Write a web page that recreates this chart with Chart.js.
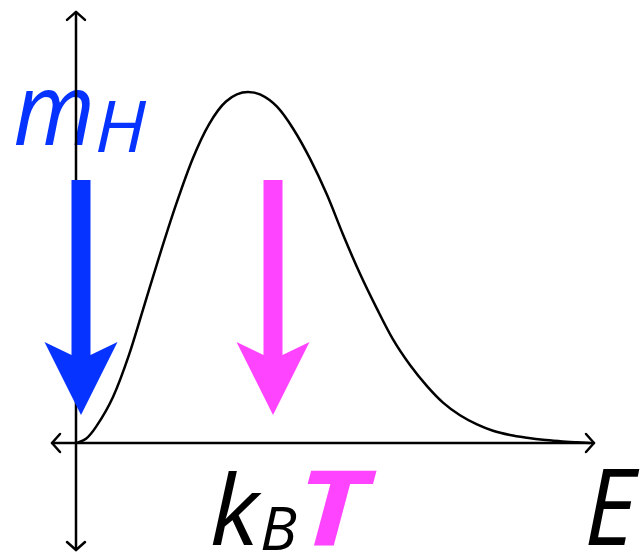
<!DOCTYPE html>
<html>
<head>
<meta charset="utf-8">
<script src="https://cdn.jsdelivr.net/npm/chart.js@4.4.1/dist/chart.umd.min.js"></script>
<style>
  html, body { margin: 0; padding: 0; background: #fff; }
  #wrap { width: 643px; height: 556px; }
</style>
</head>
<body>
<div id="wrap"><canvas id="dist" width="643" height="556"></canvas></div>
<script>
// curve: energy E vs relative population (peak = 1)
const energy  = [0, 0.10, 0.20, 0.37, 0.53, 0.67, 0.83, 1.00, 1.17, 1.33, 1.50, 1.72,
                 1.84, 2.01, 2.17, 2.34, 2.51, 2.67, 2.84, 3.01, 3.17, 3.34, 3.51, 3.67,
                 3.84, 4.01, 4.17, 4.34, 4.51, 4.67, 4.84, 5.01, 5.14];
const density = [0, 0.012, 0.046, 0.131, 0.251, 0.380, 0.529, 0.679, 0.812, 0.908, 0.973, 1.000,
                 0.993, 0.958, 0.896, 0.810, 0.707, 0.594, 0.482, 0.382, 0.295, 0.222, 0.162, 0.115,
                 0.079, 0.053, 0.035, 0.023, 0.015, 0.009, 0.005, 0.002, 0];

// the two down arrows: where they sit on E, their top and tip heights
const markerNames = ["mH", "kBT"];
const markerE     = [0.05, 1.97];
const markerTop   = [0.749, 0.749];
const markerTip   = [0.080, 0.080];
const markerColor = ["#0633FF", "#FF44FF"];

/* ---------- helpers ---------- */
// draw a string so its ink box fills [x0,x1] x [yTop,yBase]
function fitText(ctx, text, style, family, color, x0, x1, yTop, yBase) {
  ctx.save();
  ctx.font = `${style} 100px ${family}`;
  let m = ctx.measureText(text);
  const size = 100 * (yBase - yTop) / m.actualBoundingBoxAscent;
  ctx.font = `${style} ${size}px ${family}`;
  m = ctx.measureText(text);
  const w = m.actualBoundingBoxLeft + m.actualBoundingBoxRight;
  const sx = (x1 - x0) / w;
  ctx.translate(x0, yBase);
  ctx.scale(sx, 1);
  ctx.fillStyle = color;
  ctx.textBaseline = "alphabetic";
  ctx.fillText(text, m.actualBoundingBoxLeft, 0);
  ctx.restore();
}

function chevron(ctx, x, y, dx, dy) {
  // open arrow head pointing along (dx,dy)
  const len = 8, half = 9;
  const px = -dy, py = dx;
  ctx.beginPath();
  ctx.moveTo(x - dx * len + px * half, y - dy * len + py * half);
  ctx.lineTo(x, y);
  ctx.lineTo(x - dx * len - px * half, y - dy * len - py * half);
  ctx.stroke();
}

/* ---------- plugin: labels + axes under the curve, fat arrows on top ---------- */
const sketchPlugin = {
  id: "sketch",
  beforeDatasetsDraw(chart) {
    const { ctx, scales: { x, y } } = chart;
    const fam = '"Open Sans", "DejaVu Sans", sans-serif';

    fitText(ctx, "m", "italic 400", fam, markerColor[0], 15, 90, 90, 145);
    fitText(ctx, "H", "italic 400", fam, markerColor[0], 98, 147, 100, 152);
    fitText(ctx, "k", "italic 400", fam, "#000", 212, 262, 470, 545);
    fitText(ctx, "B", "italic 400", fam, "#000", 262, 297, 507, 550);
    fitText(ctx, "T", "italic 700", fam, markerColor[1], 307, 377, 470, 545);
    fitText(ctx, "E", "italic 400", fam, "#000", 588, 640, 468, 545);

    // axes with open arrow heads
    ctx.save();
    ctx.strokeStyle = "#000";
    ctx.lineWidth = 2.5;
    ctx.lineCap = "round";
    ctx.lineJoin = "round";
    const x0 = x.getPixelForValue(0), y0 = y.getPixelForValue(0);
    const yTop = y.getPixelForValue(1.228), yBot = y.getPixelForValue(-0.305);
    const xL = x.getPixelForValue(-0.24), xR = x.getPixelForValue(5.18);
    ctx.beginPath();
    ctx.moveTo(x0, yTop); ctx.lineTo(x0, yBot);
    ctx.moveTo(xL, y0); ctx.lineTo(xR, y0);
    ctx.stroke();
    chevron(ctx, x0, yTop, 0, -1);
    chevron(ctx, x0, yBot, 0, 1);
    chevron(ctx, xL, y0, -1, 0);
    chevron(ctx, xR, y0, 1, 0);
    ctx.restore();
  },
  afterDatasetsDraw(chart) {
    const { ctx, scales: { x, y } } = chart;
    const shaftHalf = 9.5, headHalf = 36.5, notch = 13, headLen = 73;
    ctx.save();
    markerNames.forEach((name, i) => {
      const cx = x.getPixelForValue(markerE[i]);
      const top = y.getPixelForValue(markerTop[i]);
      const tip = y.getPixelForValue(markerTip[i]);
      const wing = tip - headLen;
      ctx.fillStyle = markerColor[i];
      ctx.beginPath();
      ctx.moveTo(cx - shaftHalf, top);
      ctx.lineTo(cx + shaftHalf, top);
      ctx.lineTo(cx + shaftHalf, wing + notch);
      ctx.lineTo(cx + headHalf, wing);
      ctx.lineTo(cx, tip);
      ctx.lineTo(cx - headHalf, wing);
      ctx.lineTo(cx - shaftHalf, wing + notch);
      ctx.closePath();
      ctx.fill();
    });
    ctx.restore();
  }
};

/* ---------- chart ---------- */
const chart = new Chart(document.getElementById("dist"), {
  type: "line",
  data: {
    datasets: [{
      data: energy.map((e, i) => ({ x: e, y: density[i] })),
      borderColor: "#000",
      borderWidth: 2.5,
      pointRadius: 0,
      cubicInterpolationMode: "monotone",
      fill: false
    }]
  },
  options: {
    responsive: false,
    animation: false,
    layout: { padding: 0 },
    plugins: { legend: { display: false }, tooltip: { enabled: false } },
    scales: {
      x: { type: "linear", min: -0.76, max: 5.67, display: false },
      y: { type: "linear", min: -0.322, max: 1.262, display: false }
    }
  },
  plugins: [sketchPlugin]
});
</script>
</body>
</html>
